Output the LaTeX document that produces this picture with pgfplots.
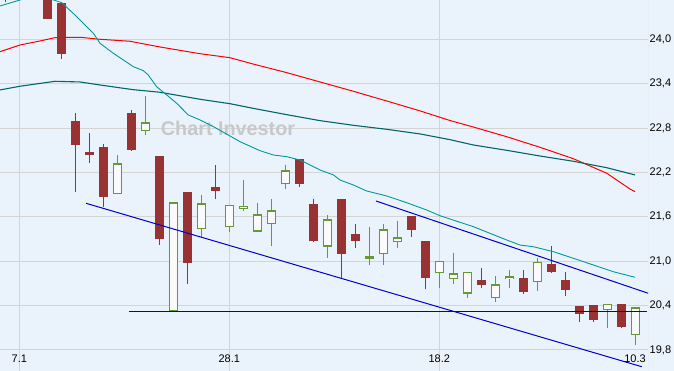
\documentclass[border=0pt]{standalone}
\usepackage{pgfplots}
\pgfplotsset{compat=1.18}
\usepackage{pgfplotstable}
\usepackage{fontspec}
\setmainfont{Liberation Sans}
\definecolor{bg}{RGB}{234,243,252}
\definecolor{gridgray}{RGB}{212,212,212}
\definecolor{cred}{RGB}{153,51,51}
\definecolor{cgreen}{RGB}{102,153,51}
\definecolor{cfill}{RGB}{250,250,250}
\definecolor{tealdark}{RGB}{0,102,102}
\definecolor{teallight}{RGB}{0,153,153}
\definecolor{chanblue}{RGB}{0,0,204}
\definecolor{wm}{RGB}{200,200,200}

% red (falling) candles: index open high low close
\pgfplotstableread{
i o h l c
-1 24.90 25.00 24.508 24.60
2 24.65 24.70 24.27 24.28
3 24.49 24.50 23.74 23.805
4 22.896 23.00 21.93 22.575
5 22.47 22.73 22.33 22.43
6 22.544 22.585 21.73 21.87
8 23.004 23.044 22.494 22.508
10 22.42 22.42 21.22 21.305
12 21.936 21.936 20.696 20.98
14 22.007 22.30 21.837 21.953
20 22.382 22.382 22.007 22.048
21 21.774 21.841 21.256 21.273
23 21.841 21.841 20.764 21.102
24 21.368 21.507 21.179 21.273
28 21.611 21.611 21.332 21.426
29 21.273 21.273 20.62 20.777
33 20.75 20.912 20.642 20.683
36 20.773 20.877 20.561 20.588
38 20.967 21.206 20.845 20.858
39 20.75 20.858 20.534 20.615
40 20.395 20.395 20.183 20.291
41 20.408 20.408 20.183 20.201
43 20.422 20.422 20.101 20.115
}\redcandles

% green (rising) candles
\pgfplotstableread{
i o h l c
7 21.905 22.43 21.905 22.324
9 22.756 23.23 22.70 22.878
11 20.323 21.797 20.323 21.797
13 21.432 21.895 21.33 21.783
15 21.459 21.76 21.40 21.76
16 21.71 22.098 21.683 21.747
17 21.40 21.783 21.40 21.634
18 21.499 21.841 21.21 21.688
19 22.04 22.30 21.972 22.229
22 21.196 21.625 21.044 21.567
25 21.034 21.463 20.953 21.067
26 21.094 21.507 20.953 21.432
27 21.256 21.544 21.183 21.323
30 20.837 21.003 20.642 21.003
31 20.756 21.115 20.696 20.837
32 20.561 20.854 20.507 20.854
34 20.499 20.80 20.453 20.688
35 20.756 20.881 20.642 20.796
37 20.715 21.044 20.602 20.994
42 20.337 20.422 20.101 20.422
44 19.999 20.377 19.872 20.377
}\greencandles

\pgfplotstableread{
x y
-1.379 23.832
0.05 23.923
1.479 23.977
2.55 24.022
4.336 24.027
5.764 24.000
7.907 23.973
10.05 23.896
12.907 23.805
15.05 23.751
16.69 23.666
19.1 23.549
21.48 23.423
23.86 23.297
26.24 23.166
28.64 23.031
30.76 22.902
32.43 22.814
34.81 22.683
37.19 22.540
39.57 22.386
41.96 22.189
43.62 21.976
43.98 21.940
}\maRed

\pgfplotstableread{
x y
-1.379 23.315
0.05 23.365
2.55 23.432
4.336 23.423
5.764 23.382
8.12 23.319
10.05 23.284
12.907 23.189
15.05 23.129
16.69 23.067
19.1 22.981
21.48 22.900
23.86 22.837
26.24 22.783
28.64 22.720
30.76 22.643
32.43 22.571
34.81 22.499
37.19 22.422
39.57 22.351
41.96 22.264
43.98 22.166
}\maSlow

\pgfplotstableread{
x y
-1.379 24.450
0.05 24.531
1.34 24.600
3.03 24.495
4.10 24.306
5.29 24.081
5.764 23.946
6.71 23.811
7.43 23.720
8.14 23.630
8.86 23.576
9.21 23.517
9.81 23.359
10.53 23.247
11.24 23.135
12.07 22.977
12.91 22.909
13.86 22.819
15.05 22.693
15.76 22.616
17.19 22.494
18.14 22.436
19.1 22.413
20.05 22.368
21.48 22.233
22.44 22.166
22.91 22.098
23.86 22.030
24.81 21.949
26.24 21.882
27.67 21.791
29.1 21.692
30.05 21.615
32.43 21.467
34.81 21.287
35.76 21.219
36.71 21.196
38.14 21.129
39.57 21.040
41.0 20.949
42.43 20.858
43.98 20.783
}\maFast

\begin{document}
\begin{tikzpicture}
\fill[bg] (0,0) rectangle (674pt,371pt);
\begin{axis}[
  at={(0pt,0pt)}, anchor=south west,
  scale only axis, width=648pt, height=371pt,
  xmin=-1.379, xmax=44.907, ymin=19.516, ymax=24.531,
  axis line style={draw=none},
  xtick={0,15,30}, xticklabels={,,},
  ytick={19.8,20.4,21.0,21.6,22.2,22.8,23.4,24.0},
  yticklabel pos=right,
  major tick length=0pt,
  grid=major, major grid style={draw=gridgray, line width=1pt},
  yticklabel style={font=\fontsize{11}{13}\selectfont, anchor=west, inner sep=0pt, xshift=1.5pt,
    /pgf/number format/.cd, fixed, fixed zerofill, precision=1, use comma, assume math mode=true},
  clip=true,
]
\node[font=\bfseries\fontsize{19.8}{20}\selectfont, text=wm] at (axis cs:14.91,22.80) {Chart Investor};

% wicks
\addplot[draw=none, mark=none, error bars/.cd, y dir=plus, y explicit, error mark=none,
  error bar style={draw=cred, line width=1pt}]
  table[x=i, y=l, y error plus expr={\thisrow{h}-\thisrow{l}}] {\redcandles};
\addplot[draw=none, mark=none, error bars/.cd, y dir=plus, y explicit, error mark=none,
  error bar style={draw=cgreen, line width=1.1pt}]
  table[x=i, y=l, y error plus expr={\thisrow{h}-\thisrow{l}}] {\greencandles};
% bodies
\addplot[draw=none, mark=none, error bars/.cd, y dir=plus, y explicit, error mark=none,
  error bar style={draw=cred, line width=9pt}]
  table[x=i, y expr={min(\thisrow{o},\thisrow{c})}, y error plus expr={abs(\thisrow{o}-\thisrow{c})}] {\redcandles};
\addplot[draw=none, mark=none, error bars/.cd, y dir=plus, y explicit, error mark=none,
  error bar style={draw=cgreen, line width=9pt}]
  table[x=i, y expr={min(\thisrow{o},\thisrow{c})}, y error plus expr={abs(\thisrow{o}-\thisrow{c})}] {\greencandles};
\addplot[draw=none, mark=none, error bars/.cd, y dir=plus, y explicit, error mark=none,
  error bar style={draw=cfill, line width=6.5pt}]
  table[x=i, y expr={min(\thisrow{o},\thisrow{c})+0.017}, y error plus expr={max(abs(\thisrow{o}-\thisrow{c})-0.034,0)}] {\greencandles};

% moving averages
\addplot[red, line width=1pt, mark=none] table[x=x, y=y] {\maRed};
\addplot[tealdark, line width=1.1pt, mark=none] table[x=x, y=y] {\maSlow};
\addplot[teallight, line width=0.9pt, mark=none] table[x=x, y=y] {\maFast};

% trend channel
\addplot[chanblue, line width=1pt, mark=none] coordinates {(4.764,21.783) (44.457,19.574)};
\addplot[chanblue, line width=1pt, mark=none] coordinates {(25.48,21.814) (44.93,20.566)};
\addplot[chanblue, line width=1pt, mark=none] coordinates {(7.836,20.323) (44.84,20.323)};

\node[anchor=base, font=\fontsize{11}{13}\selectfont] at (axis cs:0,19.631) {7.1};
\node[anchor=base, font=\fontsize{11}{13}\selectfont] at (axis cs:15,19.631) {28.1};
\node[anchor=base, font=\fontsize{11}{13}\selectfont] at (axis cs:30,19.631) {18.2};
\node[anchor=base east, inner sep=0pt, font=\fontsize{11}{13}\selectfont] at (axis cs:44.76,19.631) {10.3};
\draw[gridgray, line width=1pt] (rel axis cs:1,0) -- (rel axis cs:1,1);
\end{axis}
\pgfresetboundingbox
\useasboundingbox (0,0) rectangle (674pt,371pt);
\end{tikzpicture}
\end{document}
